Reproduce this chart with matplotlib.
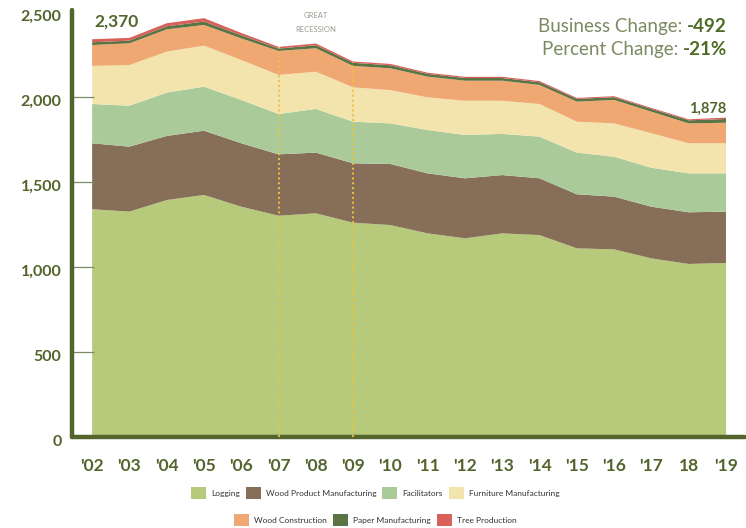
import matplotlib
matplotlib.use("Agg")
import matplotlib.pyplot as plt
from matplotlib.patches import Patch

# Businesses by sector, 2002-2019
years = list(range(2002, 2020))
year_labels = ["'02", "'03", "'04", "'05", "'06", "'07", "'08", "'09", "'10",
               "'11", "'12", "'13", "'14", "'15", "'16", "'17", "18", "'19"]

logging = [1338, 1324, 1392, 1422, 1353, 1300, 1314, 1259, 1245,
           1196, 1167, 1196, 1186, 1108, 1102, 1049, 1016, 1022]
wood_product = [388, 382, 377, 378, 373, 361, 357, 349, 359,
                353, 353, 343, 334, 318, 310, 304, 304, 302]
facilitators = [231, 241, 255, 259, 255, 237, 257, 245, 239,
                255, 255, 242, 245, 245, 235, 229, 229, 225]
furniture = [224, 239, 241, 241, 235, 230, 219, 202, 196,
             192, 201, 195, 192, 182, 196, 203, 177, 177]
wood_construction = [123, 128, 131, 122, 127, 141, 138, 126, 128,
                     122, 118, 118, 112, 118, 138, 127, 117, 121]
paper = [16, 16, 18, 20, 18, 14, 18, 18, 18,
         16, 16, 16, 16, 16, 16, 16, 18, 22]
tree = [18, 16, 18, 20, 14, 10, 10, 8, 8,
        7, 7, 7, 7, 6, 6, 6, 6, 8]

series = [logging, wood_product, facilitators, furniture,
          wood_construction, paper, tree]
names = ["Logging", "Wood Product Manufacturing", "Facilitators",
         "Furniture Manufacturing", "Wood Construction",
         "Paper Manufacturing", "Tree Production"]
colors = ["#B7C97A", "#876E58", "#AACA99", "#F3E4AE",
          "#EFA872", "#5B7443", "#D8605A"]

y_ticks = [0, 500, 1000, 1500, 2000, 2500]
y_labels = ["0", "500", "1,000", "1,500", "2,000", "2,500"]
recession = [2007, 2009]
start_label = "2,370"
end_label = "1,878"
business_change = "-492"
percent_change = "-21%"

olive = "#53652D"
muted = "#7C8A62"
font = ["Lato", "DejaVu Sans"]
narrow = ["Liberation Sans Narrow", "Lato", "DejaVu Sans"]

fig = plt.figure(figsize=(7.46, 5.28), dpi=100)
ax = fig.add_axes([72 / 746, 1 - 436.7 / 528, 673 / 746, 426.7 / 528])

ax.stackplot(years, *series, colors=colors, labels=names, linewidth=0)

totals = [sum(v) for v in zip(*series)]
for yr in recession:
    ax.vlines(yr, 0, totals[years.index(yr)], colors="#EBC23F",
              linestyles=(0, (1, 1.5)), linewidth=1.4, zorder=3)
ax.text(2008, 2480, "GREAT", ha="center", va="center", fontsize=5.5,
        color="#9B9C90", family=font)
ax.text(2008, 2395, "RECESSION", ha="center", va="center", fontsize=5.5,
        color="#9B9C90", family=font)

ax.set_xlim(2001.46, 2019.51)
ax.set_ylim(0, 2510)

for side in ["top", "right"]:
    ax.spines[side].set_visible(False)
for side in ["left", "bottom"]:
    ax.spines[side].set_linewidth(3.2)
    ax.spines[side].set_color(olive)
    ax.spines[side].set_capstyle("round")

# y ticks: short inward marks, labels sit a little below each mark
ax.set_yticks(y_ticks[1:-1])
ax.tick_params(axis="y", direction="in", length=16, width=0.9,
               color="#7D8A67", labelleft=False)
for v, lab in zip(y_ticks, y_labels):
    ax.annotate(lab, xy=(0, v), xycoords=ax.get_yaxis_transform(),
                xytext=(-7.5, -3.8), textcoords="offset points",
                ha="right", va="center", fontsize=11.5, fontweight="bold",
                color=olive, family=font)

ax.set_xticks(years)
ax.set_xticklabels(year_labels)
ax.tick_params(axis="x", length=0, pad=15, labelsize=12.5, labelcolor=olive)
for lab in ax.get_xticklabels():
    lab.set_fontweight("bold")
    lab.set_family(font)

ax.text(2002.05, 2442, start_label, ha="left", va="center", fontsize=12.5,
        fontweight="bold", color=olive, family=font)
ax.text(2019.0, 1930, end_label, ha="right", va="center", fontsize=10.5,
        fontweight="bold", color=olive, family=font)

b1 = ax.text(2019.03, 2410, business_change, ha="right", va="center",
             fontsize=13.5, fontweight="bold", color="#4E6B25", family=font)
ax.annotate("Business Change: ", xy=(0, 0.5), xycoords=b1, ha="right",
            va="center", fontsize=13.5, color=muted, family=font)
b2 = ax.text(2019.03, 2275, percent_change, ha="right", va="center",
             fontsize=13.5, fontweight="bold", color="#4E6B25", family=font)
ax.annotate("Percent Change: ", xy=(0, 0.5), xycoords=b2, ha="right",
            va="center", fontsize=13.5, color=muted, family=font)

handles = [Patch(facecolor=c, edgecolor="none") for c in colors]
leg_kw = dict(loc="center", frameon=False, handlelength=1.8, handleheight=1.7,
              handletextpad=0.6, columnspacing=0.7,
              prop={"family": narrow, "size": 6.0})
leg1 = fig.legend(handles[:4], names[:4], ncol=4,
                  bbox_to_anchor=(0.503, 1 - 493 / 528), **leg_kw)
leg2 = fig.legend(handles[4:], names[4:], ncol=3,
                  bbox_to_anchor=(0.503, 1 - 520 / 528), **leg_kw)
for t in leg1.get_texts() + leg2.get_texts():
    t.set_color("#333333")

fig.savefig("out.png", dpi=100, facecolor="white")
